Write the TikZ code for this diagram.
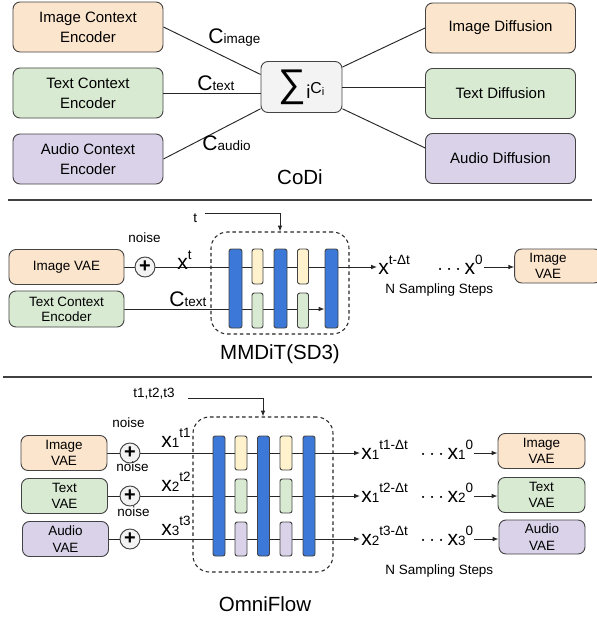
\documentclass[tikz,border=0pt]{standalone}
\usepackage{fontspec}
\setmainfont{Liberation Sans}
\usepackage{tikz}
\usetikzlibrary{arrows.meta,positioning,calc,backgrounds}
\definecolor{cimg}{HTML}{FCE5CD}
\definecolor{ctxt}{HTML}{D9EAD3}
\definecolor{caud}{HTML}{D9D2E9}
\definecolor{cyel}{HTML}{FFF2CC}
\definecolor{cblu}{HTML}{3C78D8}
\definecolor{cgry}{HTML}{F3F3F3}
\definecolor{cedge}{HTML}{434343}
\newcommand{\bigv}[1]{{\fontsize{18}{18}\selectfont #1}}
\newcommand{\upx}[1]{\raisebox{8.5pt}{#1}}

\begin{document}
\begin{tikzpicture}[x=0.03cm, y=-0.03cm,
  font=\fontsize{11.5}{14}\selectfont,
  box/.style={draw=cedge, line width=0.8pt, rounded corners=6pt, align=center, inner sep=2pt},
  bigbox/.style={box, minimum width=4.5cm, minimum height=1.5cm, font=\fontsize{12.8}{17}\selectfont},
  addop/.style={circle, draw=cedge, line width=0.8pt, fill=cgry, minimum size=0.6cm, inner sep=0pt, font=\fontsize{17}{17}\selectfont\bfseries},
  dashbox/.style={draw=black!85, line width=0.9pt, dash pattern=on 3pt off 2.5pt, rounded corners=14pt},
  blueblk/.style={draw=cedge, fill=cblu, line width=0.8pt, rounded corners=2pt, inner sep=0pt},
  lightblk/.style={draw=cedge, line width=0.8pt, rounded corners=2pt, inner sep=0pt},
  lbl/.style={inner sep=1pt, anchor=base west},
  title/.style={font=\fontsize{17.5}{20}\selectfont, anchor=base},
  conn/.style={line width=0.8pt, draw=black!85},
  arr/.style={conn, -{Latex[length=5pt,width=4pt]}},
  sep/.style={line width=0.9pt, draw=black!75}
]
\useasboundingbox (0,0) rectangle (597,617);

% CoDi
\node[bigbox, fill=cimg] (ice) at (88,27) {Image Context\\Encoder};
\node[bigbox, fill=ctxt] (tce) at (88,93) {Text Context\\Encoder};
\node[bigbox, fill=caud] (ace) at (88,159) {Audio Context\\Encoder};
\node[box, fill=cgry, minimum width=2.43cm, minimum height=1.53cm] (sum) at (301.5,87)
  {{\fontsize{33}{33}\selectfont ∑}\raisebox{-2pt}{\fontsize{16}{16}\selectfont i}\raisebox{2pt}{\fontsize{13.5}{13.5}\selectfont C\raisebox{-1pt}{\fontsize{9.5}{9.5}\selectfont i}}};
\node[bigbox, fill=cimg] (idf) at (500.5,28) {Image Diffusion};
\node[bigbox, fill=ctxt] (tdf) at (500.5,93.5) {Text Diffusion};
\node[bigbox, fill=caud] (adf) at (500.5,158.5) {Audio Diffusion};

\draw[conn] (ice.east) -- (sum.163);
\draw[conn] (tce.east) -- (tce.east -| sum.west);
\draw[conn] (ace.east) -- (sum.208);
\draw[conn] (sum.26) -- (idf.west);
\draw[conn] (sum.east) -- (sum.east -| tdf.west);
\draw[conn] (sum.-28) -- (adf.172);

\node[lbl] (limg) at (207,43) {\bigv{C}image};
\node[lbl] (ltxt) at (196,90) {\bigv{C}text};
\node[lbl] (laud) at (201,150) {\bigv{C}audio};
\node[title] (codi) at (300,184) {CoDi};

\draw[sep] (8,200) -- (592,200);

% MMDiT(SD3)
\node[box, fill=cimg, minimum width=3.45cm, minimum height=1.05cm] (ivae) at (66.5,267) {Image VAE};
\node[box, fill=ctxt, minimum width=3.45cm, minimum height=1.08cm, inner sep=1pt, font=\fontsize{11.5}{13}\selectfont] (tcem) at (66.5,309) {Text Context\\Encoder};
\node[addop] (plus) at (145,267) {+};
\node[lbl] (noise) at (127,242) {noise};
\node[lbl] (lxt) at (176,269) {\bigv{x}\upx{t}};
\node[lbl] (lct) at (168,306) {\bigv{C}text};

\node[dashbox, minimum width=4.14cm, minimum height=3.06cm] (mdit) at (280,283) {};
\foreach \bx [count=\k] in {235.5,280.5,331.5}
  \node[blueblk, minimum width=0.39cm, minimum height=2.37cm] (mb\k) at (\bx,288.5) {};
\foreach \lx [count=\k] in {257.5,303} {
  \node[lightblk, fill=cyel, minimum width=0.33cm, minimum height=1.05cm] (my\k) at (\lx,266.5) {};
  \node[lightblk, fill=ctxt, minimum width=0.33cm, minimum height=1.05cm] (mg\k) at (\lx,310.5) {};
}
\node[lbl] (lt) at (192,222) {t};
\coordinate (tin) at (205,213);
\draw[arr] (tin) -| (mdit.north);

\node[lbl] (xtd) at (377,274) {\bigv{x}\upx{t-Δt}};
\node[lbl] (dx0) at (436,274) {\bigv{$\cdots$\,x}\upx{0}};
\node[box, fill=cimg, minimum width=2.6cm, minimum height=1.02cm,
  label={[align=center, xshift=-0.3cm]center:Image\\VAE}] (ovae) at (558,266) {};
\node[lbl] (nss) at (384,293) {N Sampling Steps};
\node[title] (mmdit) at (280,359) {MMDiT(SD3)};

\begin{pgfonlayer}{background}
\draw[conn] (ivae.east) -- (plus.west);
\draw[arr] (plus.east) -- (plus.east -| xtd.west);
\draw[arr] (tcem.east) -- (tcem.east -| mb3.west);
\end{pgfonlayer}
\draw[arr] (dx0.east |- plus) -- (plus -| ovae.west);

\draw[sep] (3,377) -- (592,377);

% OmniFlow
\node[box, fill=cimg, minimum width=2.58cm, minimum height=1.05cm, inner sep=1pt] (oimg) at (64,453) {Image\\VAE};
\node[box, fill=ctxt, minimum width=2.58cm, minimum height=1.05cm, inner sep=1pt] (otxt) at (64.5,496) {Text\\VAE};
\node[box, fill=caud, minimum width=2.58cm, minimum height=1.05cm, inner sep=1pt] (oaud) at (65.5,539) {Audio\\VAE};
\node[addop] (op1) at (130,453) {+};
\node[addop] (op2) at (130,496) {+};
\node[addop] (op3) at (130,539) {+};
\node[lbl] (on1) at (111,427) {noise};
\node[lbl] (on2) at (115,471) {noise};
\node[lbl] (on3) at (116,516) {noise};
\node[lbl] (ix1) at (160,447) {\bigv{x}1\upx{t1}};
\node[lbl] (ix2) at (160,491) {\bigv{x}2\upx{t2}};
\node[lbl] (ix3) at (160,535) {\bigv{x}3\upx{t3}};

\node[dashbox, minimum width=4.2cm, minimum height=4.65cm] (odit) at (263,494.5) {};
\foreach \bx [count=\k] in {219,263.5,309}
  \node[blueblk, minimum width=0.36cm, minimum height=3.6cm] (ob\k) at (\bx,496) {};
\foreach \lx [count=\k] in {241,286} {
  \node[lightblk, fill=cyel, minimum width=0.36cm, minimum height=1.02cm] (oy\k) at (\lx,453) {};
  \node[lightblk, fill=ctxt, minimum width=0.36cm, minimum height=1.02cm] (og\k) at (\lx,496) {};
  \node[lightblk, fill=caud, minimum width=0.36cm, minimum height=1.02cm] (ou\k) at (\lx,539) {};
}
\node[lbl] (lts) at (132,397) {t1,t2,t3};
\coordinate (otin) at (188,398);
\draw[arr] (otin) -| (odit.north);

\node[lbl] (ox1) at (360,459) {\bigv{x}1\upx{t1-Δt}};
\node[lbl] (ox2) at (360,502) {\bigv{x}1\upx{t2-Δt}};
\node[lbl] (ox3) at (360,545) {\bigv{x}2\upx{t3-Δt}};
\node[lbl] (od1) at (419,459) {\bigv{$\cdots$\,x}1\upx{0}};
\node[lbl] (od2) at (419,502) {\bigv{$\cdots$\,x}2\upx{0}};
\node[lbl] (od3) at (419,545) {\bigv{$\cdots$\,x}3\upx{0}};
\node[box, fill=cimg, minimum width=2.61cm, minimum height=1.05cm, inner sep=1pt] (oo1) at (541.5,451) {Image\\VAE};
\node[box, fill=ctxt, minimum width=2.61cm, minimum height=1.05cm, inner sep=1pt] (oo2) at (541.5,495) {Text\\VAE};
\node[box, fill=caud, minimum width=2.58cm, minimum height=1.02cm, inner sep=1pt] (oo3) at (542,537) {Audio\\VAE};
\node[lbl] (onss) at (384,574) {N Sampling Steps};
\node[title] (omni) at (265,611) {OmniFlow};

\begin{pgfonlayer}{background}
\foreach \r in {1,2,3} {
  \draw[conn] (o\ifcase\r\or img\or txt\or aud\fi.east) -- (op\r.west);
  \draw[arr] (op\r.east) -- (op\r.east -| ox\r.west);
}
\end{pgfonlayer}
\foreach \r in {1,2,3}
  \draw[arr] (od\r.east |- op\r) -- (op\r -| oo\r.west);

\end{tikzpicture}
\end{document}
